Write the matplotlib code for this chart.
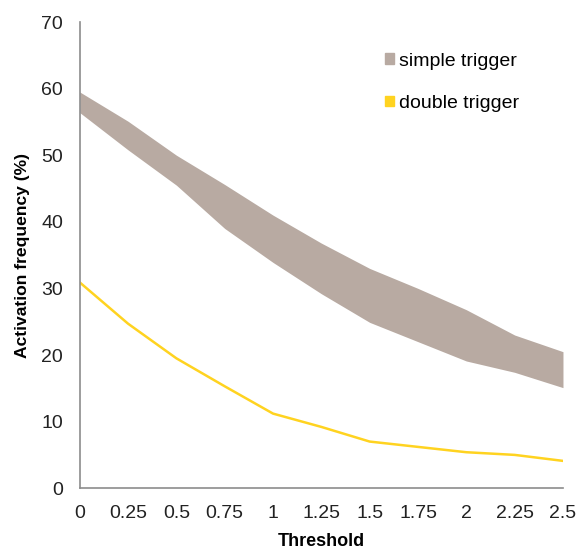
import matplotlib as mpl
import matplotlib.pyplot as plt
from matplotlib.patches import Patch

mpl.rcParams["font.family"] = ["Liberation Sans", "DejaVu Sans"]

# data
threshold = [0, 0.25, 0.5, 0.75, 1, 1.25, 1.5, 1.75, 2, 2.25, 2.5]
tick_labels = ["0", "0.25", "0.5", "0.75", "1", "1.25", "1.5", "1.75", "2", "2.25", "2.5"]
simple_upper = [59.5, 55.1, 50.0, 45.6, 41.0, 36.8, 33.0, 30.0, 26.8, 23.0, 20.5]
simple_lower = [56.4, 50.8, 45.5, 39.0, 33.9, 29.2, 24.9, 22.0, 19.1, 17.4, 15.1]
double_trig = [30.9, 24.7, 19.5, 15.3, 11.2, 9.2, 7.0, 6.2, 5.4, 5.0, 4.1]

band_color = "#b8aaa2"
line_color = "#ffd320"

fig = plt.figure(figsize=(5.78, 5.51), dpi=100)
ax = fig.add_axes([0.138, 0.114, 0.836, 0.846])

ax.fill_between(threshold, simple_lower, simple_upper, color=band_color, lw=0)
ax.plot(threshold, double_trig, color=line_color, lw=1.8, solid_joinstyle="round")

ax.set_xlim(0, 2.5)
ax.set_ylim(0, 70)
ax.set_xticks(threshold)
ax.set_xticklabels(tick_labels)
ax.set_yticks(range(0, 71, 10))
ax.tick_params(length=0, labelsize=14, colors="#222222")
ax.tick_params(axis="x", pad=12)
ax.tick_params(axis="y", pad=12)

for s in ["top", "right"]:
    ax.spines[s].set_visible(False)
for s in ["left", "bottom"]:
    ax.spines[s].set_color("#8c8c8c")
    ax.spines[s].set_linewidth(1.2)

ax.set_xlabel("Threshold", fontsize=13, fontweight="bold", labelpad=8)
ax.set_ylabel("Activation frequency (%)", fontsize=12.6, fontweight="bold", labelpad=8)

handles = [Patch(color=band_color, label="simple trigger"),
           Patch(color=line_color, label="double trigger")]
ax.legend(handles=handles, loc="upper left", bbox_to_anchor=(0.596, 0.972),
          frameon=False, fontsize=14, handlelength=0.46, handleheight=0.46,
          handletextpad=0.25, labelspacing=1.3)

fig.savefig("out.png", dpi=100)
